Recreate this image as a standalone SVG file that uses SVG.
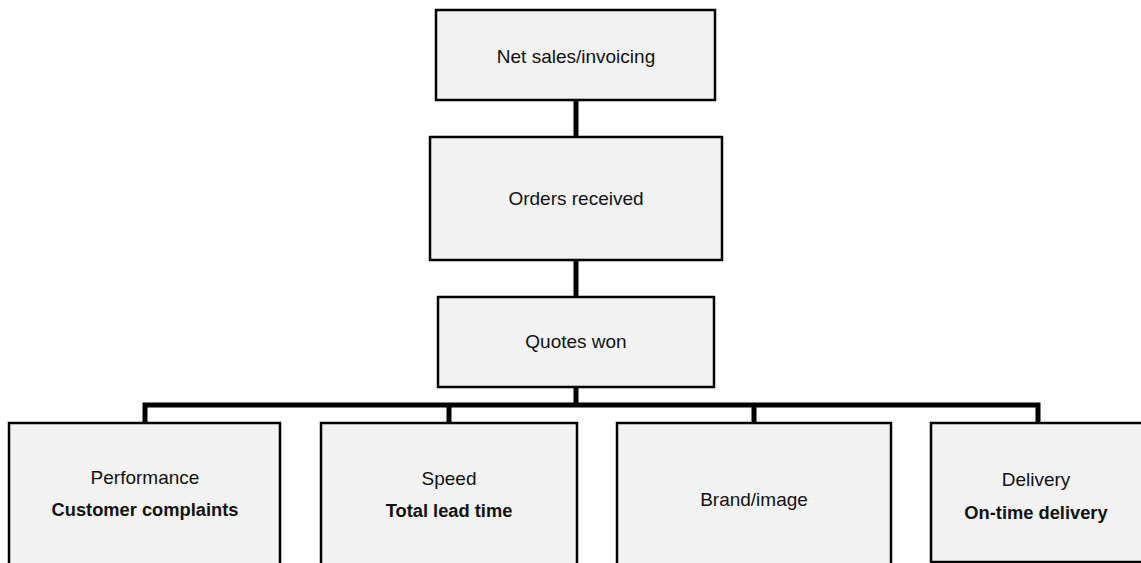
<svg xmlns="http://www.w3.org/2000/svg" width="1141" height="563" viewBox="0 0 1141 563">
  <style>
    .box { fill: #f2f2f2; stroke: #000; stroke-width: 2.5; }
    .wire { fill: none; stroke: #000; stroke-width: 5; stroke-linecap: butt; stroke-linejoin: miter; }
    .lbl { font-family: "Liberation Sans", Arial, sans-serif; font-size: 19px; fill: #111; text-anchor: middle; }
    .key { font-family: "Liberation Sans", Arial, sans-serif; font-size: 18.3px; font-weight: bold; fill: #111; text-anchor: middle; }
  </style>
  <rect width="1141" height="563" fill="#fff"/>

  <!-- connectors -->
  <g id="connectors">
    <line class="wire" x1="576" y1="100" x2="576" y2="137"/>
    <line class="wire" x1="576" y1="260" x2="576" y2="297"/>
    <line class="wire" x1="576" y1="387" x2="576" y2="405"/>
    <polyline class="wire" points="145,423 145,405 1038,405 1038,423"/>
    <line class="wire" x1="449" y1="405" x2="449" y2="423"/>
    <line class="wire" x1="754" y1="405" x2="754" y2="423"/>
  </g>

  <g id="net-sales">
    <rect class="box" x="436" y="10" width="279" height="90"/>
    <text class="lbl" x="576" y="63">Net sales/invoicing</text>
  </g>

  <g id="orders-received">
    <rect class="box" x="430" y="137" width="292" height="123"/>
    <text class="lbl" x="576" y="205">Orders received</text>
  </g>

  <g id="quotes-won">
    <rect class="box" x="438" y="297" width="276" height="90"/>
    <text class="lbl" x="576" y="348">Quotes won</text>
  </g>

  <g id="performance">
    <rect class="box" x="9" y="423" width="271" height="150"/>
    <text class="lbl" x="145" y="484">Performance</text>
    <text class="key" x="145" y="516">Customer complaints</text>
  </g>

  <g id="speed">
    <rect class="box" x="321" y="423" width="256" height="150"/>
    <text class="lbl" x="449" y="485">Speed</text>
    <text class="key" x="449" y="517">Total lead time</text>
  </g>

  <g id="brand">
    <rect class="box" x="617" y="423" width="274" height="150"/>
    <text class="lbl" x="754" y="506">Brand/image</text>
  </g>

  <g id="delivery">
    <rect class="box" x="931" y="423" width="214" height="139"/>
    <text class="lbl" x="1036" y="486">Delivery</text>
    <text class="key" x="1036" y="519">On-time delivery</text>
  </g>
</svg>
